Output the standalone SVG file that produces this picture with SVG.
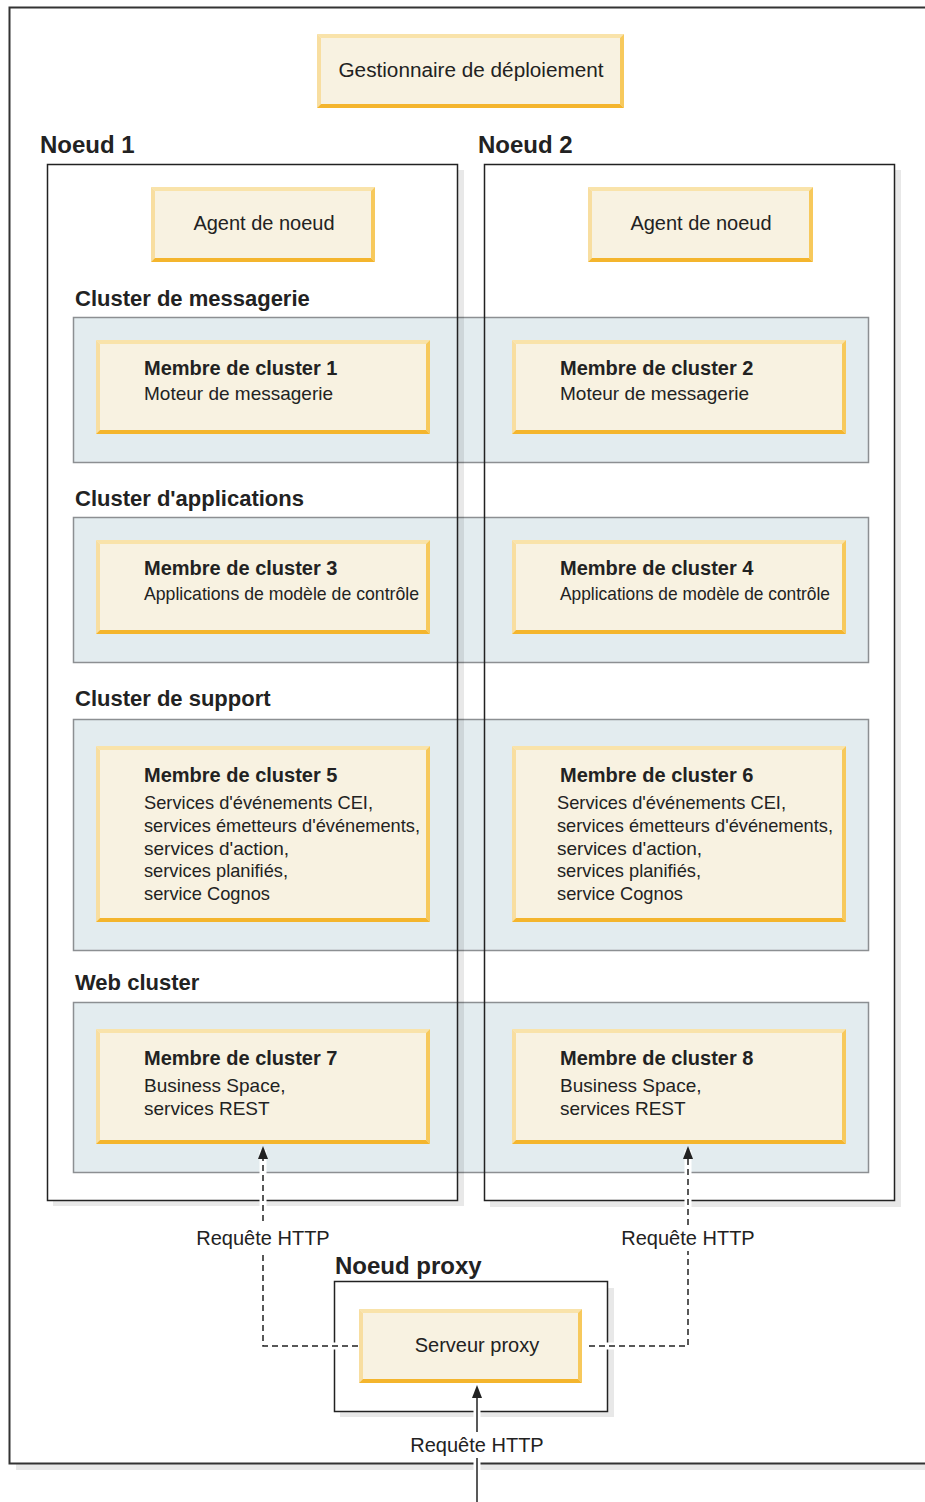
<svg xmlns="http://www.w3.org/2000/svg" width="925" height="1502" viewBox="0 0 925 1502">
<style>
text{font-family:"Liberation Sans",Arial,sans-serif;fill:#222}
.nt{font-size:24px;font-weight:bold}
.ct{font-size:22px;font-weight:bold}
.bt{font-size:20px}
.mt{font-size:20px;font-weight:bold}
.mb{font-size:19px}
.lbl{font-size:20px}
.fill{fill:#f8f2e1}
.et{fill:#f9e3aa}
.el{fill:#f8dea0}
.er{fill:#f7c95c}
.eb{fill:#f4b52d}
.band{fill:#e3ecef;stroke:#8c8f92;stroke-width:1.5}
.node{fill:none;stroke:#222;stroke-width:1.5}
.shadow{fill:#000;fill-opacity:0.09}
.halo{fill:none;stroke:#fff;stroke-width:7}
.dash{fill:none;stroke:#222;stroke-width:1.5;stroke-dasharray:6 4}
.solid{fill:none;stroke:#222;stroke-width:1.5}
.head{fill:#222}
</style>
<rect width="925" height="1502" fill="#fff"/>
<!-- outer frame -->
<g id="frame">
<rect class="shadow" x="16" y="1464" width="909" height="6"/>
<path d="M925,7.5 H9.5 V1463.5 H925" fill="none" stroke="#333" stroke-width="2"/>
</g>
<!-- cluster bands -->
<g id="bands">
<rect class="band" x="73.5" y="317.5" width="795" height="145"/>
<rect class="band" x="73.5" y="517.5" width="795" height="145"/>
<rect class="band" x="73.5" y="719.5" width="795" height="231"/>
<rect class="band" x="73.5" y="1002.5" width="795" height="170"/>
</g>
<!-- nodes -->
<g id="node1">
<rect class="shadow" x="458" y="170" width="6" height="1036"/>
<rect class="shadow" x="53" y="1201" width="405" height="5"/>
<rect class="node" x="47.5" y="164.5" width="410" height="1036"/>
<text class="nt" x="40" y="153">Noeud 1</text>
</g>
<g id="node2">
<rect class="shadow" x="895" y="170" width="6" height="1037"/>
<rect class="shadow" x="490" y="1201" width="405" height="6"/>
<rect class="node" x="484.5" y="164.5" width="410" height="1036"/>
<text class="nt" x="478" y="153">Noeud 2</text>
</g>
<g id="proxynode">
<rect fill="#fff" x="334" y="1281" width="273" height="130"/>
<rect class="shadow" x="608" y="1288" width="6" height="129"/>
<rect class="shadow" x="340" y="1412" width="268" height="5"/>
<rect class="node" x="334.5" y="1281.5" width="273" height="130"/>
<text class="nt" x="335" y="1274">Noeud proxy</text>
</g>
<g id="clustertitles">
<text class="ct" x="75" y="306">Cluster de messagerie</text>
<text class="ct" x="75" y="506">Cluster d'applications</text>
<text class="ct" x="75" y="706">Cluster de support</text>
<text class="ct" x="75" y="990">Web cluster</text>
</g>
<!-- connectors -->
<g id="connectors">
<path class="halo" d="M358,1346 H263 V1150"/>
<path class="halo" d="M589,1346 H688 V1150"/>
<path class="halo" d="M477,1502 V1390"/>
<path class="dash" d="M358,1346 H263 V1156"/>
<polygon class="head" points="263,1146 258,1159 268,1159"/>
<path class="dash" d="M589,1346 H688 V1156"/>
<polygon class="head" points="688,1146 683,1159 693,1159"/>
<path class="solid" d="M477,1502 V1396"/>
<polygon class="head" points="477,1385 472,1398 482,1398"/>
<rect fill="#fff" x="194" y="1225" width="138" height="26"/>
<text class="lbl" x="263" y="1245" text-anchor="middle">Requête HTTP</text>
<rect fill="#fff" x="619" y="1225" width="138" height="26"/>
<text class="lbl" x="688" y="1245" text-anchor="middle">Requête HTTP</text>
<rect fill="#fff" x="408" y="1432" width="138" height="26"/>
<text class="lbl" x="477" y="1452" text-anchor="middle">Requête HTTP</text>
</g>
<g id="dmgr">
<rect class="fill" x="317" y="34" width="307" height="74"/>
<polygon class="et" points="317,34 624,34 620,38 321,38"/>
<polygon class="el" points="317,34 321,38 321,104 317,108"/>
<polygon class="er" points="624,34 624,108 620,104 620,38"/>
<polygon class="eb" points="317,108 624,108 620,104 321,104"/>
<text class="bt" x="471" y="77" text-anchor="middle" textLength="265" lengthAdjust="spacingAndGlyphs">Gestionnaire de déploiement</text>
</g>
<g id="agent1">
<rect class="fill" x="151" y="187" width="224" height="75"/>
<polygon class="et" points="151,187 375,187 371,191 155,191"/>
<polygon class="el" points="151,187 155,191 155,258 151,262"/>
<polygon class="er" points="375,187 375,262 371,258 371,191"/>
<polygon class="eb" points="151,262 375,262 371,258 155,258"/>
<text class="bt" x="264" y="230" text-anchor="middle">Agent de noeud</text>
</g>
<g id="agent2">
<rect class="fill" x="588" y="187" width="225" height="75"/>
<polygon class="et" points="588,187 813,187 809,191 592,191"/>
<polygon class="el" points="588,187 592,191 592,258 588,262"/>
<polygon class="er" points="813,187 813,262 809,258 809,191"/>
<polygon class="eb" points="588,262 813,262 809,258 592,258"/>
<text class="bt" x="701" y="230" text-anchor="middle">Agent de noeud</text>
</g>
<g id="member1">
<rect class="fill" x="96" y="340" width="334" height="94"/>
<polygon class="et" points="96,340 430,340 426,344 100,344"/>
<polygon class="el" points="96,340 100,344 100,430 96,434"/>
<polygon class="er" points="430,340 430,434 426,430 426,344"/>
<polygon class="eb" points="96,434 430,434 426,430 100,430"/>
<text class="mt" x="144" y="375">Membre de cluster 1</text>
<text class="mb" x="144" y="400">Moteur de messagerie</text>
</g>
<g id="member2">
<rect class="fill" x="512" y="340" width="334" height="94"/>
<polygon class="et" points="512,340 846,340 842,344 516,344"/>
<polygon class="el" points="512,340 516,344 516,430 512,434"/>
<polygon class="er" points="846,340 846,434 842,430 842,344"/>
<polygon class="eb" points="512,434 846,434 842,430 516,430"/>
<text class="mt" x="560" y="375">Membre de cluster 2</text>
<text class="mb" x="560" y="400">Moteur de messagerie</text>
</g>
<g id="member3">
<rect class="fill" x="96" y="540" width="334" height="94"/>
<polygon class="et" points="96,540 430,540 426,544 100,544"/>
<polygon class="el" points="96,540 100,544 100,630 96,634"/>
<polygon class="er" points="430,540 430,634 426,630 426,544"/>
<polygon class="eb" points="96,634 430,634 426,630 100,630"/>
<text class="mt" x="144" y="575">Membre de cluster 3</text>
<text class="mb" x="144" y="600" textLength="275" lengthAdjust="spacingAndGlyphs">Applications de modèle de contrôle</text>
</g>
<g id="member4">
<rect class="fill" x="512" y="540" width="334" height="94"/>
<polygon class="et" points="512,540 846,540 842,544 516,544"/>
<polygon class="el" points="512,540 516,544 516,630 512,634"/>
<polygon class="er" points="846,540 846,634 842,630 842,544"/>
<polygon class="eb" points="512,634 846,634 842,630 516,630"/>
<text class="mt" x="560" y="575">Membre de cluster 4</text>
<text class="mb" x="560" y="600" textLength="270" lengthAdjust="spacingAndGlyphs">Applications de modèle de contrôle</text>
</g>
<g id="member5">
<rect class="fill" x="96" y="746" width="334" height="176"/>
<polygon class="et" points="96,746 430,746 426,750 100,750"/>
<polygon class="el" points="96,746 100,750 100,918 96,922"/>
<polygon class="er" points="430,746 430,922 426,918 426,750"/>
<polygon class="eb" points="96,922 430,922 426,918 100,918"/>
<text class="mt" x="144" y="782">Membre de cluster 5</text>
<text class="mb" x="144" y="809" textLength="229" lengthAdjust="spacingAndGlyphs">Services d'événements CEI,</text>
<text class="mb" x="144" y="832" textLength="276" lengthAdjust="spacingAndGlyphs">services émetteurs d'événements,</text>
<text class="mb" x="144" y="855">services d'action,</text>
<text class="mb" x="144" y="877" textLength="144" lengthAdjust="spacingAndGlyphs">services planifiés,</text>
<text class="mb" x="144" y="900" textLength="126" lengthAdjust="spacingAndGlyphs">service Cognos</text>
</g>
<g id="member6">
<rect class="fill" x="512" y="746" width="334" height="176"/>
<polygon class="et" points="512,746 846,746 842,750 516,750"/>
<polygon class="el" points="512,746 516,750 516,918 512,922"/>
<polygon class="er" points="846,746 846,922 842,918 842,750"/>
<polygon class="eb" points="512,922 846,922 842,918 516,918"/>
<text class="mt" x="560" y="782">Membre de cluster 6</text>
<text class="mb" x="557" y="809" textLength="229" lengthAdjust="spacingAndGlyphs">Services d'événements CEI,</text>
<text class="mb" x="557" y="832" textLength="276" lengthAdjust="spacingAndGlyphs">services émetteurs d'événements,</text>
<text class="mb" x="557" y="855">services d'action,</text>
<text class="mb" x="557" y="877" textLength="144" lengthAdjust="spacingAndGlyphs">services planifiés,</text>
<text class="mb" x="557" y="900" textLength="126" lengthAdjust="spacingAndGlyphs">service Cognos</text>
</g>
<g id="member7">
<rect class="fill" x="96" y="1029" width="334" height="115"/>
<polygon class="et" points="96,1029 430,1029 426,1033 100,1033"/>
<polygon class="el" points="96,1029 100,1033 100,1140 96,1144"/>
<polygon class="er" points="430,1029 430,1144 426,1140 426,1033"/>
<polygon class="eb" points="96,1144 430,1144 426,1140 100,1140"/>
<text class="mt" x="144" y="1065">Membre de cluster 7</text>
<text class="mb" x="144" y="1092">Business Space,</text>
<text class="mb" x="144" y="1115">services REST</text>
</g>
<g id="member8">
<rect class="fill" x="512" y="1029" width="334" height="115"/>
<polygon class="et" points="512,1029 846,1029 842,1033 516,1033"/>
<polygon class="el" points="512,1029 516,1033 516,1140 512,1144"/>
<polygon class="er" points="846,1029 846,1144 842,1140 842,1033"/>
<polygon class="eb" points="512,1144 846,1144 842,1140 516,1140"/>
<text class="mt" x="560" y="1065">Membre de cluster 8</text>
<text class="mb" x="560" y="1092">Business Space,</text>
<text class="mb" x="560" y="1115">services REST</text>
</g>
<g id="proxyserver">
<rect class="fill" x="359" y="1309" width="223" height="74"/>
<polygon class="et" points="359,1309 582,1309 578,1313 363,1313"/>
<polygon class="el" points="359,1309 363,1313 363,1379 359,1383"/>
<polygon class="er" points="582,1309 582,1383 578,1379 578,1313"/>
<polygon class="eb" points="359,1383 582,1383 578,1379 363,1379"/>
<text class="bt" x="477" y="1352" text-anchor="middle">Serveur proxy</text>
</g>
</svg>
